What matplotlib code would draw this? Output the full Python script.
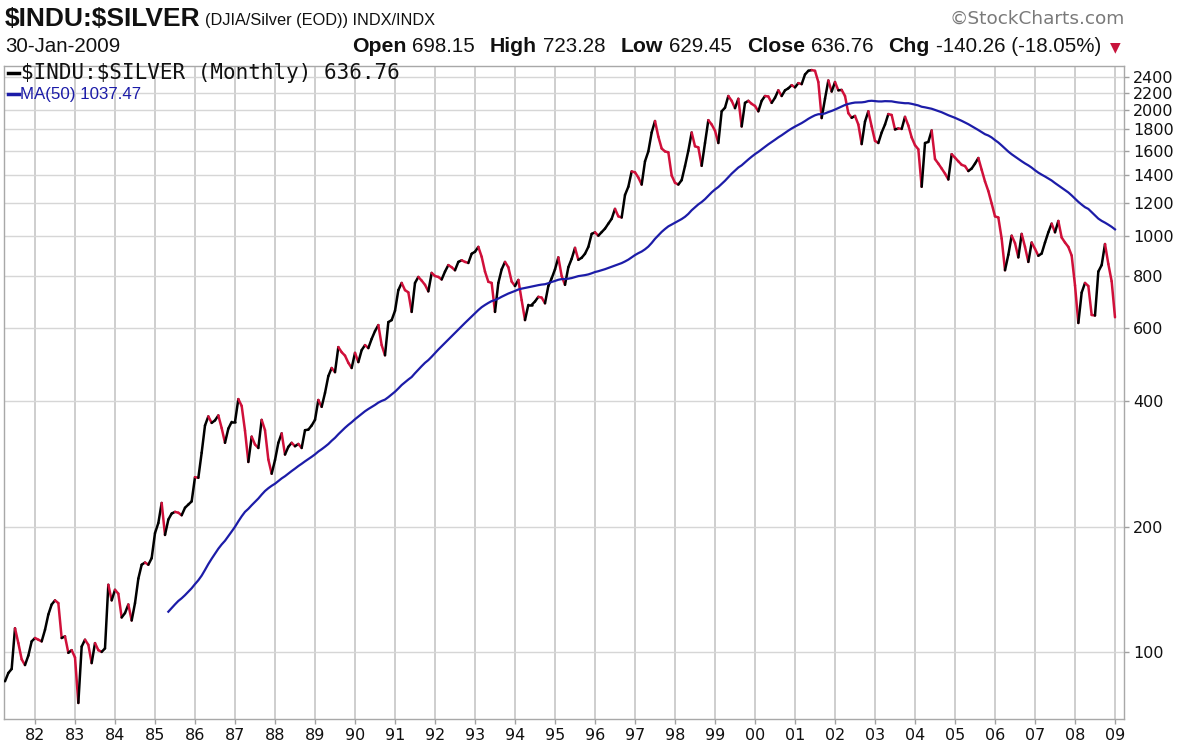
import numpy as np
import pandas as pd
import matplotlib
matplotlib.use('Agg')
import matplotlib.pyplot as plt
from matplotlib.collections import LineCollection
from matplotlib.lines import Line2D

# ---------------- data (monthly closes, Apr-1981 .. Jan-2009) ----------------
y81 = [85, 89, 91, 114, 105, 96, 93, 98, 106]            # Apr..Dec
y82 = [108, 107, 106, 113, 123, 130, 133, 131, 108, 109, 99.5, 101]
y83 = [97, 75.4, 103, 107, 104, 94, 105, 101, 100, 102, 145, 133]
y84 = [141, 138, 121, 124, 130, 119, 131, 150, 162, 164, 162, 168]
y85 = [193, 204, 228, 191, 208, 215, 217, 216, 213, 222, 226, 230]
y86 = [263, 262, 301, 350, 368, 355, 360, 370, 345, 318, 344, 357]
y87 = [357, 405, 390, 340, 286, 329, 315, 309, 361, 341, 290, 268]
y88 = [289, 318, 335, 298, 311, 318, 312, 316, 309, 341, 342, 350]
y89 = [361, 403, 388, 419, 460, 481, 470, 540, 525, 515, 495, 481]
y90 = [523, 497, 531, 546, 537, 565, 590, 610, 546, 516, 620, 627]
y91 = [660, 740, 770, 740, 731, 656, 770, 796, 780, 762, 735, 814]
y92 = [800, 796, 785, 820, 850, 840, 826, 865, 873, 865, 860, 905]
y93 = [915, 940, 890, 820, 775, 770, 656, 770, 830, 865, 840, 776]
y94 = [757, 783, 700, 627, 682, 682, 695, 713, 710, 688, 757, 790]
y95 = [830, 887, 800, 762, 840, 880, 935, 875, 885, 905, 940, 1010]
y96 = [1019, 1000, 1020, 1040, 1069, 1098, 1160, 1113, 1106, 1253, 1311, 1427]
y97 = [1420, 1380, 1327, 1509, 1594, 1770, 1886, 1730, 1620, 1594, 1586, 1395]
y98 = [1340, 1327, 1360, 1470, 1600, 1770, 1640, 1630, 1472, 1670, 1895, 1850]
y99 = [1788, 1670, 1990, 2030, 2166, 2109, 2025, 2133, 1830, 2085, 2109, 2074]
y00 = [2050, 1990, 2109, 2166, 2160, 2085, 2145, 2235, 2166, 2235, 2260, 2300]
y01 = [2272, 2326, 2313, 2440, 2490, 2500, 2490, 2340, 1917, 2133, 2360, 2220]
y02 = [2340, 2235, 2240, 2166, 1970, 1920, 1940, 1850, 1660, 1880, 1990, 1830]
y03 = [1690, 1670, 1770, 1850, 1960, 1950, 1800, 1810, 1805, 1930, 1840, 1722]
y04 = [1650, 1613, 1311, 1670, 1680, 1790, 1528, 1490, 1450, 1410, 1365, 1570]
y05 = [1540, 1509, 1480, 1470, 1430, 1450, 1490, 1537, 1440, 1350, 1280, 1195]
y06 = [1113, 1106, 984, 826, 900, 1000, 960, 887, 1010, 940, 865, 963]
y07 = [930, 895, 906, 963, 1019, 1069, 1019, 1085, 990, 963, 940, 896]
y08 = [760, 617, 730, 770, 757, 645, 643, 820, 850, 955, 855, 777.02]
y09 = [636.76]

start_year = 1981.25   # April 1981
ma_window = 50

year_ticks = list(range(1982, 2010))
year_labels = ["%02d" % (y % 100) for y in year_ticks]
y_ticks = [100, 200, 400, 600, 800, 1000, 1200, 1400, 1600, 1800, 2000, 2200, 2400]
y_labels = [str(v) for v in y_ticks]

vals = np.array(y81 + y82 + y83 + y84 + y85 + y86 + y87 + y88 + y89 + y90 +
                y91 + y92 + y93 + y94 + y95 + y96 + y97 + y98 + y99 + y00 +
                y01 + y02 + y03 + y04 + y05 + y06 + y07 + y08 + y09, dtype=float)
t = start_year + np.arange(len(vals)) / 12.0
ma = pd.Series(vals).rolling(ma_window).mean().values

# ---------------- figure ----------------
W, H = 1179, 743
fig = plt.figure(figsize=(W / 100, H / 100), dpi=100)
fig.patch.set_facecolor('white')

def fx(px):
    return px / W

def fy(py):
    return 1 - py / H

ax = fig.add_axes([fx(4), fy(719), (1124 - 4) / W, (719 - 66) / H])
ax.set_yscale('log')
ax.set_xlim(1981.225, 2009.225)
ax.set_ylim(69.0, 2557)

# grid
ax.set_xticks(year_ticks)
ax.set_xticklabels(year_labels)
ax.set_yticks(y_ticks)
ax.set_yticklabels(y_labels)
ax.yaxis.set_minor_locator(matplotlib.ticker.NullLocator())
ax.xaxis.set_minor_locator(matplotlib.ticker.NullLocator())
ax.grid(True, axis='x', color='#c6c6c6', lw=1.2, zorder=0)
ax.grid(True, axis='y', color='#d6d6d6', lw=1.0, zorder=0)
ax.set_axisbelow(True)

ax.yaxis.tick_right()
ax.tick_params(axis='y', which='both', length=3.5, width=1, color='#a0a0a0',
               labelsize=11.5, pad=3, labelcolor='#111111')
ax.tick_params(axis='x', length=3.5, width=1, color='#a0a0a0',
               labelsize=11.5, pad=3, labelcolor='#111111')
for lab in ax.get_xticklabels() + ax.get_yticklabels():
    lab.set_family('DejaVu Sans')
for s in ax.spines.values():
    s.set_linestyle((0, (1, 1)))
    s.set_color('#a8a8a8')
    s.set_linewidth(1.0)

# price line colored by direction
pts = np.column_stack([t, vals])
segs = [pts[i - 1:i + 1] for i in range(1, len(vals))]
cols = ['#000000' if vals[i] >= vals[i - 1] else '#d0103a' for i in range(1, len(vals))]
lc = LineCollection(segs, colors=cols, linewidths=1.8, capstyle='round',
                    joinstyle='round', zorder=3)
ax.add_collection(lc)

# moving average
ax.plot(t, ma, color='#1c1ca8', lw=1.6, zorder=4)

# ---------------- header ----------------
fig.text(fx(5), fy(19), '\\$INDU:\\$SILVER', fontsize=19, fontweight='bold',
         family=['Liberation Sans', 'DejaVu Sans'],
         ha='left', va='center', color='#111111')
fig.text(fx(205), fy(20), '(DJIA/Silver (EOD)) INDX/INDX', fontsize=11.8,
         family=['Liberation Sans', 'DejaVu Sans'], ha='left', va='center', color='#111111')
fig.text(fx(1125), fy(19), '\u00a9StockCharts.com', fontsize=13.3,
         family=['DejaVu Sans'], ha='right', va='center', color='#7a7a7a')

fig.text(fx(5), fy(46), '30-Jan-2009', fontsize=14.8,
         family=['Liberation Sans', 'DejaVu Sans'], ha='left', va='center', color='#111111')

renderer = fig.canvas.get_renderer()
pieces = [('Open', True), ('698.15', False), ('High', True), ('723.28', False),
          ('Low', True), ('629.45', False), ('Close', True), ('636.76', False),
          ('Chg', True), ('-140.26 (-18.05%)', False)]
xr = 1101
for i in range(len(pieces) - 1, -1, -1):
    txt, bold = pieces[i]
    tt = fig.text(fx(xr), fy(46), txt, fontsize=15.3 if bold else 14.8,
                  fontweight='bold' if bold else 'normal',
                  family=['Liberation Sans', 'DejaVu Sans'], ha='right', va='center',
                  color='#111111')
    w = tt.get_window_extent(renderer).width
    gap = 6 if not bold else 15
    xr -= w + gap
fig.text(fx(1115), fy(47), '\u25bc', fontsize=10, family=['DejaVu Sans'],
         ha='center', va='center', color='#c8143c')

# legend
fig.add_artist(Line2D([fx(8), fx(19)], [fy(73), fy(73)], color='black', lw=2.5))
fig.text(fx(21), fy(73), '\\$INDU:\\$SILVER (Monthly) 636.76', fontsize=15,
         family=['DejaVu Sans Mono'], ha='left', va='center', color='#111111')
fig.add_artist(Line2D([fx(8), fx(19)], [fy(94), fy(94)], color='#1c1ca8', lw=2.5))
fig.text(fx(20), fy(94), 'MA(50) 1037.47', fontsize=12.2,
         family=['Liberation Sans', 'DejaVu Sans'], ha='left', va='center', color='#1c1ca8')

fig.savefig('out.png', dpi=100, facecolor='white')
